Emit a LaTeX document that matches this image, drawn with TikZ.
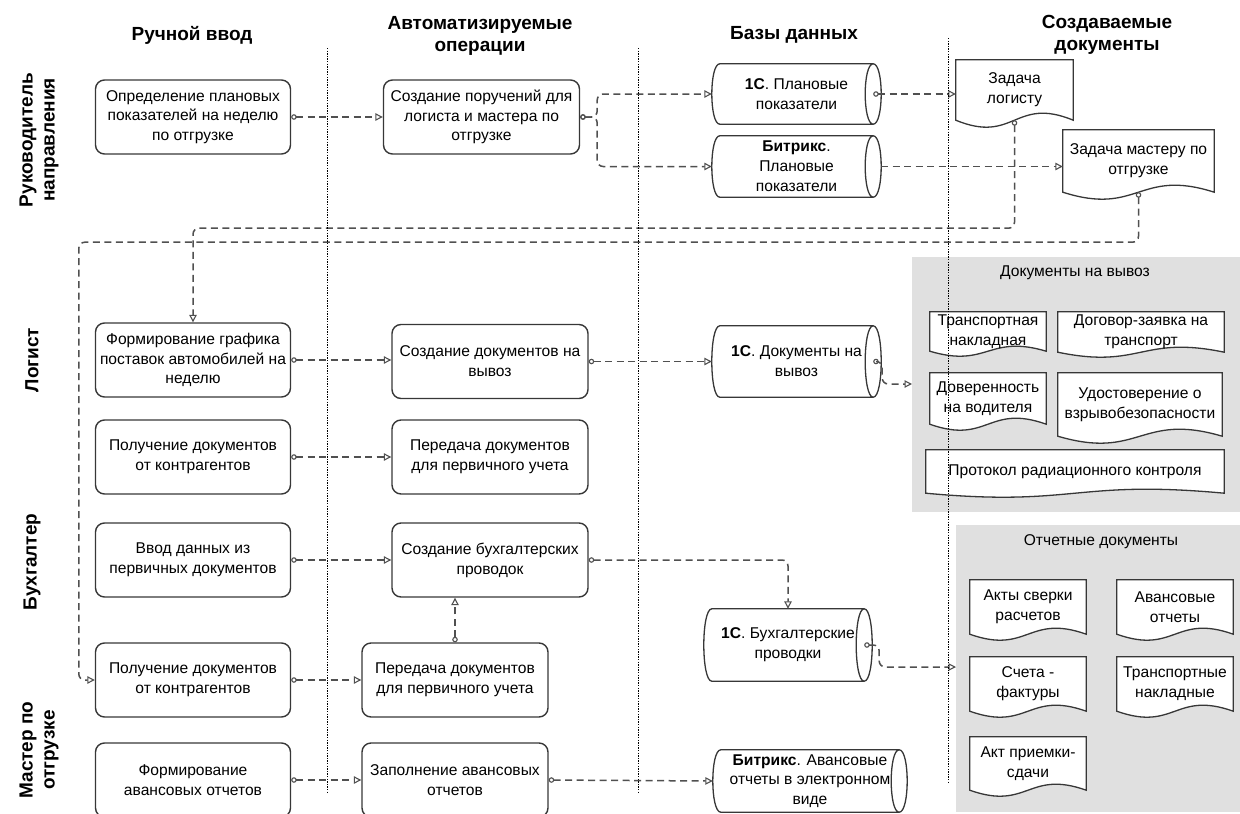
\documentclass[tikz,border=0pt]{standalone}
\usepackage{fontspec}
\setmainfont{Liberation Sans}
\usetikzlibrary{arrows.meta,calc}
\pgfdeclarelayer{bg}\pgfdeclarelayer{mid}\pgfsetlayers{bg,mid,main}
\definecolor{ln}{RGB}{55,55,55}
\definecolor{dl}{RGB}{80,80,80}
\definecolor{gr}{RGB}{224,224,224}
\newcommand\txtf{\fontsize{15.6}{19.8}\selectfont}
\newcommand\hdf{\fontsize{19}{22}\selectfont\bfseries}
\newcommand\docout[2][7]{%
\begin{pgfonlayer}{mid}
\draw[draw=ln,line width=1.3pt,fill=white] let \p1=(#2.north west), \p2=(#2.south east) in
 (\x1,\y2) -- (\x1,\y1) -- (\x2,\y1) -- (\x2,\y2)
 .. controls ({(\x1+\x2)/2},{\y2+#1*3.46pt}) and ({(\x1+\x2)/2},{\y2-#1*3.46pt}) .. (\x1,\y2) -- cycle;
\end{pgfonlayer}}
\newcommand\cylout[1]{%
\begin{pgfonlayer}{mid}
\draw[draw=ln,line width=1.3pt,fill=white] let \p1=(#1.north west), \p2=(#1.south east) in
 ({\x1+8pt},\y1) -- ({\x2-8pt},\y1)
 .. controls ({\x2+2.67pt},\y1) and ({\x2+2.67pt},\y2) .. ({\x2-8pt},\y2)
 -- ({\x1+8pt},\y2)
 .. controls ({\x1-2.67pt},\y2) and ({\x1-2.67pt},\y1) .. ({\x1+8pt},\y1) -- cycle
 ({\x2-8pt},\y1) .. controls ({\x2-18.67pt},\y1) and ({\x2-18.67pt},\y2) .. ({\x2-8pt},\y2);
\end{pgfonlayer}}
\tikzset{
 proc/.style={draw=ln,line width=1.4pt,rounded corners=9pt,minimum height=74pt,align=center,font=\txtf,inner sep=1pt},
 dbn/.style={minimum height=60pt,align=center,font=\txtf,inner sep=1pt},
 docn/.style={align=center,font=\txtf,inner sep=1pt},
 hd/.style={font=\hdf,align=center,inner sep=0pt},
 ttl/.style={font=\txtf,inner sep=0pt},
 graybox/.style={fill=gr,draw=none,anchor=north west,inner sep=0pt},
 conn/.style={draw=dl,line width=1.5pt,dash pattern=on 7pt off 4.5pt,rounded corners=6pt,
   {Circle[open,length=5.5pt,width=5.5pt,line width=1.1pt]}-{Triangle[open,length=7.5pt,width=7.5pt,line width=1.1pt]}},
 connb/.style={draw=dl,line width=1.5pt,dash pattern=on 7pt off 4.5pt,rounded corners=6pt,
   -{Triangle[open,length=7.5pt,width=7.5pt,line width=1.1pt]}},
 sep/.style={draw=black,line width=0.9pt,dash pattern=on 1.3pt off 1.3pt}
}
\begin{document}
\begin{tikzpicture}[x=1pt,y=-1pt]
\useasboundingbox (0,0) rectangle (1240,814);
% gray groups
\begin{pgfonlayer}{bg}
\node[graybox,minimum width=328pt,minimum height=255pt] (G1) at (912,257) {};
\node[graybox,minimum width=284pt,minimum height=287pt] (G2) at (956,525) {};
\end{pgfonlayer}
\node[ttl] (G1t) at (1075,273) {Документы на вывоз};
\node[ttl] (G2t) at (1101,542) {Отчетные документы};
% headers
\node[hd] (h1) at (192,35) {Ручной ввод};
\node[hd] (h2) at (480,36) {Автоматизируемые\\операции};
\node[hd] (h3) at (794,35) {Базы данных};
\node[hd] (h4) at (1107,35) {Создаваемые\\документы};
% lanes
\node[hd,rotate=90] (r1) at (39,140) {Руководитель\\направления};
\node[hd,rotate=90] (r2) at (32,360) {Логист};
\node[hd,rotate=90] (r3) at (32,562) {Бухгалтер};
\node[hd,rotate=90] (r4) at (39,750) {Мастер по\\отгрузке};
% column 1
\node[proc,minimum width=195pt] (A1) at (193,117) {Определение плановых\\показателей на неделю\\по отгрузке};
\node[proc,minimum width=195pt] (L1) at (193,360) {Формирование графика\\поставок автомобилей на\\неделю};
\node[proc,minimum width=195pt] (L2) at (193,457) {Получение документов\\от контрагентов};
\node[proc,minimum width=195pt] (B1) at (193,560) {Ввод данных из\\первичных документов};
\node[proc,minimum width=195pt] (M1) at (193,680) {Получение документов\\от контрагентов};
\node[proc,minimum width=195pt] (M2) at (193,780) {Формирование\\авансовых отчетов};
% column 2
\node[proc,minimum width=196pt] (A2) at (481.5,117) {Создание поручений для\\логиста и мастера по\\отгрузке};
\node[proc,minimum width=196pt] (L3) at (490,361.5) {Создание документов на\\вывоз};
\node[proc,minimum width=196pt] (L4) at (490,457) {Передача документов\\для первичного учета};
\node[proc,minimum width=196pt] (B2) at (490,560) {Создание бухгалтерских\\проводок};
\node[proc,minimum width=186pt] (M3) at (455,680) {Передача документов\\для первичного учета};
\node[proc,minimum width=186pt] (M4) at (455,780) {Заполнение авансовых\\отчетов};
% databases
\node[dbn,minimum width=169pt] (D1) at (796.5,94) {\textbf{1С}. Плановые\\показатели};
\node[dbn,minimum width=169pt,minimum height=61pt] (D2) at (796.5,166.5) {\textbf{Битрикс}.\\Плановые\\показатели};
\node[dbn,minimum width=169pt,minimum height=71pt] (D3) at (796.5,361.5) {\textbf{1С}. Документы на\\вывоз};
\node[dbn,minimum width=168pt,minimum height=72pt] (D4) at (788,645) {\textbf{1С}. Бухгалтерские\\проводки};
\node[dbn,minimum width=194pt,minimum height=62pt] (D5) at (810,781) {\textbf{Битрикс}. Авансовые\\отчеты в электронном\\виде};
\cylout{D1}\cylout{D2}\cylout{D3}\cylout{D4}\cylout{D5}
% documents
\node[docn,minimum width=117pt,minimum height=60pt] (Doc1) at (1014.5,90) {Задача\\логисту};
\node[docn,minimum width=151pt,minimum height=62pt] (Doc2) at (1138.5,161) {Задача мастеру по\\отгрузке};
\node[docn,minimum width=116pt,minimum height=39pt] (T1) at (988,331.5) {Транспортная\\накладная};
\node[docn,minimum width=166pt,minimum height=40pt] (T2) at (1141,332) {Договор-заявка на\\транспорт};
\node[docn,minimum width=116pt,minimum height=51pt] (T3) at (988,398.5) {Доверенность\\на водителя};
\node[docn,minimum width=164pt,minimum height=63pt] (T4) at (1140,404.5) {Удостоверение о\\взрывобезопасности};
\node[docn,minimum width=298pt,minimum height=43pt] (T5) at (1075,471.5) {Протокол радиационного контроля};
\node[docn,minimum width=116pt,minimum height=54pt] (R1) at (1028,607) {Акты сверки\\расчетов};
\node[docn,minimum width=116pt,minimum height=54pt] (R2) at (1175,607) {Авансовые\\отчеты};
\node[docn,minimum width=116pt,minimum height=54pt] (R3) at (1028,684) {Счета -\\фактуры};
\node[docn,minimum width=116pt,minimum height=54pt] (R4) at (1175,684) {Транспортные\\накладные};
\node[docn,minimum width=116pt,minimum height=53pt] (R5) at (1028,763.5) {Акт приемки-\\сдачи};
\docout{Doc1}\docout{Doc2}
\docout[5]{T1}\docout[5]{T2}\docout[6]{T3}\docout[7]{T4}\docout[4]{T5}
\docout[6]{R1}\docout[6]{R2}\docout[6]{R3}\docout[6]{R4}\docout[6]{R5}
% connectors
\coordinate (D1c) at ($(D1.east)+(-8,0)$);
\coordinate (D3c) at ($(D3.east)+(-8,0)$);
\coordinate (D4c) at ($(D4.east)+(-8,0)$);
\coordinate (g1in) at (912,384);
\coordinate (g2in) at (956,667);
\draw[conn] (A1.east) -- (A2.west);
\draw[conn] (A2.east) -- ++(17,0) |- (D1.west);
\draw[conn] (A2.east) -- ++(17,0) |- (D2.west);
\draw[conn] (D1c) -- (Doc1.west |- D1c);
\draw[connb] (D2.east) -- (Doc2.west |- D2.east);
\draw[conn] (Doc1.south) -- ++(0,108) -| (L1.north);
\draw[conn] (Doc2.south) -- ++(0,50) -| ($(M1.west)+(-16,0)$) -- (M1.west);
\draw[conn] (L1.east) -- (L1.east -| L3.west);
\draw[conn] (L3.east) -- (D3.west);
\draw[conn] (D3c) -- ++(9,0) |- (g1in);
\draw[conn] (L2.east) -- (L4.west);
\draw[conn] (B1.east) -- (B2.west);
\draw[conn] (B2.east) -| (D4.north);
\draw[conn] (M3.north) -- (M3.north |- B2.south);
\draw[conn] (D4c) -- ++(15,0) |- (g2in);
\draw[conn] (M1.east) -- (M3.west);
\draw[conn] (M2.east) -- (M4.west);
\draw[conn] (M4.east) -- (D5.west);
% separators
\coordinate (s1a) at (327,48); \coordinate (s1b) at (327,793);
\coordinate (s2a) at (638,48); \coordinate (s2b) at (638,793);
\coordinate (s3a) at (948,38); \coordinate (s3b) at (948,783);
\draw[sep] (s1a) -- (s1b);
\draw[sep] (s2a) -- (s2b);
\draw[sep] (s3a) -- (s3b);
\end{tikzpicture}
\end{document}
